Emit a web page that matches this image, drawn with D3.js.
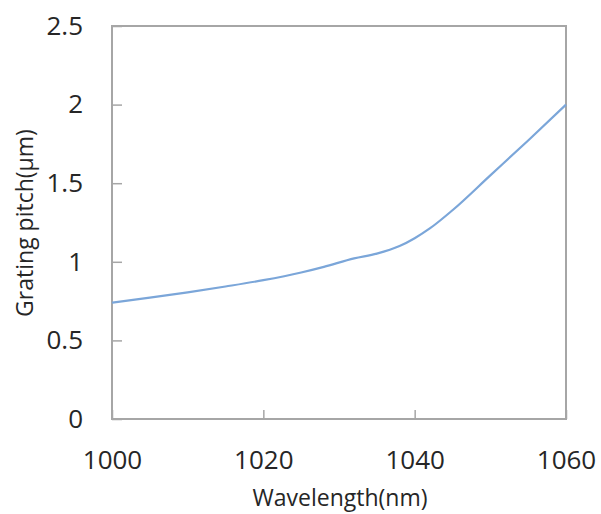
<!DOCTYPE html>
<html>
<head>
<meta charset="utf-8">
<script src="https://cdn.jsdelivr.net/npm/d3@7/dist/d3.min.js"></script>
<style>
  html, body { margin: 0; padding: 0; background: #fff; }
  text { font-family: "Open Sans", "Liberation Sans", sans-serif; fill: #262626; }
</style>
</head>
<body>
<script>
// Grating pitch versus wavelength
const wavelengths = [1000, 1005, 1010, 1015, 1020, 1025, 1028, 1032, 1035, 1038, 1040, 1042, 1045, 1050, 1055, 1060];
const pitch =       [0.74, 0.772, 0.806, 0.843, 0.883, 0.932, 0.968, 1.022, 1.052, 1.10, 1.15, 1.212, 1.328, 1.55, 1.772, 2.0];
const xTicks = [1000, 1020, 1040, 1060];
const yTicks = [0, 0.5, 1, 1.5, 2, 2.5];
const xTitle = "Wavelength(nm)";
const yTitle = "Grating pitch(μm)";

const W = 601, H = 514;
const margin = { left: 112, right: 35, top: 26, bottom: 95 };

const svg = d3.select("body").append("svg")
  .attr("width", W).attr("height", H);

const x = d3.scaleLinear().domain([1000, 1060]).range([margin.left, W - margin.right]);
const y = d3.scaleLinear().domain([0, 2.5]).range([H - margin.bottom, margin.top]);

const axisColor = "#a6a6a6";

// Plot frame
svg.append("rect")
  .attr("x", x(1000)).attr("y", y(2.5))
  .attr("width", x(1060) - x(1000)).attr("height", y(0) - y(2.5))
  .attr("fill", "none").attr("stroke", axisColor).attr("stroke-width", 2);

// X axis (ticks pointing inward)
const xAxis = svg.append("g")
  .attr("transform", `translate(0,${y(0)})`)
  .call(d3.axisBottom(x).tickValues(xTicks).tickFormat(d3.format("d")).tickSize(-9).tickPadding(32));
xAxis.select(".domain").remove();
xAxis.selectAll(".tick line").attr("stroke", axisColor).attr("stroke-width", 1.5);
xAxis.selectAll(".tick text").attr("font-size", 26).attr("font-family", "Open Sans");

// Y axis (ticks pointing inward)
const yAxis = svg.append("g")
  .attr("transform", `translate(${x(1000)},0)`)
  .call(d3.axisLeft(y).tickValues(yTicks).tickFormat(d => String(d)).tickSize(-10).tickPadding(29));
yAxis.select(".domain").remove();
yAxis.selectAll(".tick line").attr("stroke", axisColor).attr("stroke-width", 1.5);
yAxis.selectAll(".tick text").attr("font-size", 26).attr("font-family", "Open Sans");

// Data curve
const line = d3.line()
  .x((d, i) => x(wavelengths[i]))
  .y(d => y(d))
  .curve(d3.curveMonotoneX);

svg.append("path")
  .datum(pitch)
  .attr("d", line)
  .attr("fill", "none")
  .attr("stroke", "#7ba6d9")
  .attr("stroke-width", 2.2);

// Axis titles
svg.append("text")
  .attr("x", 340).attr("y", 506)
  .attr("text-anchor", "middle")
  .attr("font-size", 23)
  .text(xTitle);

svg.append("text")
  .attr("transform", `translate(33,223) rotate(-90)`)
  .attr("text-anchor", "middle")
  .attr("font-size", 23)
  .text(yTitle);
</script>
</body>
</html>
